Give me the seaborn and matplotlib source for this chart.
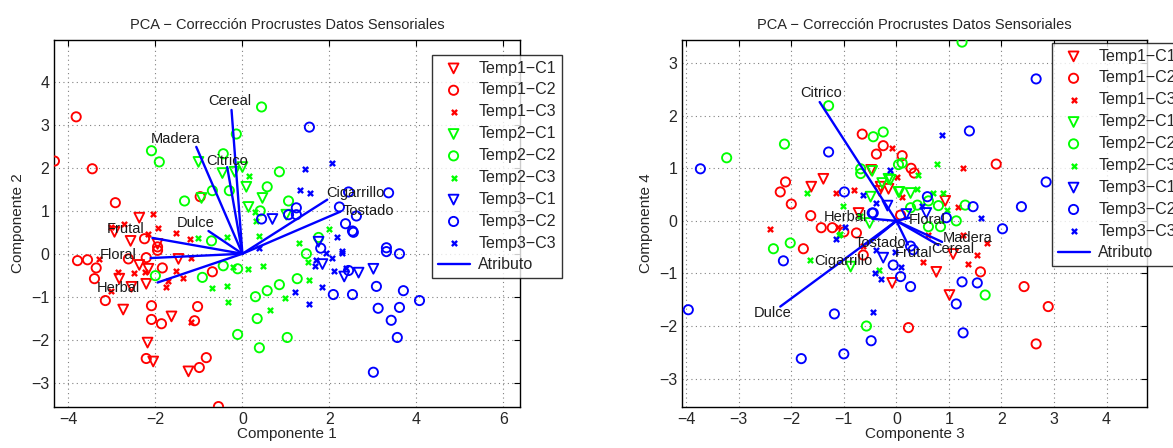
import matplotlib
matplotlib.use('Agg')
import matplotlib.pyplot as plt
import seaborn as sns
import pandas as pd
import numpy as np

# ---------- data: Componente 1 vs Componente 2 ----------
t1c1_a = [(-2.37, 0.84), (-2.57, 0.30), (-2.94, 0.51), (-2.37, -0.26), (-2.16, -0.35), (-2.21, -0.70),
          (-2.83, -0.58), (-2.55, -0.77), (-2.74, -1.30), (-2.18, -2.07), (-2.05, -2.51), (-1.63, -1.46),
          (-1.24, -2.74), (-1.47, -0.12), (-1.95, 0.23)]
t1c2_a = [(-4.32, 2.16), (-3.82, 3.19), (-3.45, 1.98), (-2.92, 1.19), (-3.79, -0.16), (-3.56, -0.14),
          (-3.36, -0.33), (-3.40, -0.58), (-3.15, -1.09), (-2.62, -0.12), (-2.25, 0.35), (-2.21, -0.09),
          (-1.95, 0.16), (-1.95, 0.08), (-1.84, -0.33), (-2.09, -1.21), (-2.09, -1.53), (-1.86, -1.63),
          (-2.21, -2.44), (-1.03, -1.23), (-1.10, -1.56), (-0.69, -0.42), (-0.83, -2.42), (-0.99, -2.65),
          (-0.55, -3.56), (-0.97, 1.33)]
t1c3_a = [(-2.05, 0.93), (-1.95, 0.60), (-2.71, 0.70), (-3.03, 0.63), (-2.16, 0.47), (-1.52, 0.49),
          (-1.20, 0.35), (-1.17, -0.09), (-1.52, -0.40), (-1.36, -0.56), (-1.70, -0.63), (-1.75, -0.77),
          (-2.48, -0.44), (-2.87, -0.42), (-3.29, -0.12), (-3.03, -0.86), (-1.17, -1.60), (-2.23, -0.42)]
t2c1_a = [(-1.01, 2.14), (-0.94, 1.30), (-0.46, 1.88), (-0.18, 1.91), (0.0, 2.02), (0.09, 1.56),
          (0.14, 1.09), (0.46, 1.30), (1.01, 0.91)]
t2c2_a = [(-2.09, 2.40), (-1.91, 2.14), (0.44, 3.42), (-0.14, 2.79), (-0.44, 2.33), (-1.33, 1.23),
          (-0.69, 1.47), (-0.30, 1.47), (0.57, 1.56), (0.85, 1.91), (1.06, 1.23), (0.41, 1.00),
          (-0.71, 0.30), (-0.44, -0.28), (-0.11, -0.35), (-0.92, -0.55), (1.47, 0.00), (1.75, 0.38),
          (1.26, -0.58), (0.85, -0.72), (0.57, -0.86), (0.30, -1.00), (0.34, -1.51), (-0.11, -1.88),
          (1.03, -1.95), (0.39, -2.19), (-2.00, -0.51)]
t2c3_a = [(0.16, 1.81), (0.32, 0.77), (0.39, 0.42), (-0.35, 0.40), (-1.03, 0.37), (1.29, 0.26),
          (1.98, 0.58), (1.50, -0.19), (0.48, -0.28), (0.14, -0.35), (-0.21, -0.30), (-0.71, -0.80),
          (-0.35, -0.76), (-0.34, -1.12), (0.64, -1.32), (0.97, -1.02), (1.54, -0.60), (0.30, 0.98)]
t3c1_a = [(0.69, 0.81), (1.75, 0.28), (1.84, -0.24), (2.34, -0.53), (2.67, -0.44), (3.01, -0.35)]
t3c2_a = [(0.44, 0.81), (1.24, 1.07), (1.06, 0.91), (1.24, 0.91), (1.54, 2.95), (2.44, 1.44),
          (3.36, 1.42), (2.23, 1.09), (2.62, 0.88), (2.37, 0.70), (2.53, 0.53), (2.55, 0.50),
          (3.31, 0.14), (3.31, 0.05), (3.61, 0.00), (1.80, 0.13), (3.08, -0.76), (3.12, -1.27),
          (3.70, -0.86), (3.61, -1.25), (4.07, -1.09), (3.42, -1.55), (3.56, -1.95), (3.01, -2.76),
          (2.09, -0.95), (2.53, -0.95), (2.44, -0.39)]
t3c3_a = [(2.05, 2.12), (1.45, 1.98), (1.33, 1.49), (1.56, 1.42), (2.18, 0.40), (2.28, 0.07),
          (2.30, 0.02), (2.05, -0.09), (1.91, 0.02), (1.70, -0.14), (1.68, -0.28), (2.11, -0.40),
          (2.39, -0.33), (1.82, -0.77), (1.20, -0.88), (1.54, -1.16), (0.37, 0.14)]

attr_names = ['Cereal', 'Madera', 'Citrico', 'Dulce', 'Frutal', 'Floral', 'Herbal', 'Cigarrillo', 'Tostado']
attr_a = [(-0.25, 3.35), (-1.06, 2.49), (-0.35, 2.02), (-0.78, 0.53), (-2.07, 0.37), (-2.11, -0.10),
          (-1.95, -0.67), (1.95, 1.26), (2.25, 0.98)]
attr_lab_a = [(-0.28, 3.56), (-1.54, 2.67), (-0.34, 2.16), (-1.08, 0.72), (-2.69, 0.58), (-2.85, -0.02),
              (-2.85, -0.79), (2.60, 1.42), (2.90, 1.00)]

# ---------- data: Componente 3 vs Componente 4 ----------
t1c1_b = [(-1.62, 0.65), (-1.39, 0.80), (-0.48, 0.97), (-0.30, 0.65), (-0.15, 0.61), (-0.32, 0.57),
          (0.93, 0.38), (-0.72, 0.15), (1.08, -0.63), (0.76, -0.97), (-0.08, -1.18), (1.01, -1.41)]
t1c2_b = [(-0.65, 1.65), (-0.25, 1.43), (-0.38, 1.27), (0.11, 1.24), (0.28, 1.00), (0.34, 0.91),
          (1.90, 1.08), (-2.11, 0.74), (-2.21, 0.55), (-2.00, 0.32), (-1.63, 0.10), (-1.43, -0.13),
          (-1.22, -0.13), (-1.00, -0.21), (-0.76, -0.23), (-1.77, -0.53), (-0.63, -0.65), (0.08, 0.11),
          (1.60, -0.97), (2.43, -1.25), (2.89, -1.63), (2.66, -2.34), (0.23, -2.03)]
t1c3_b = [(-2.40, -0.15), (-1.14, 0.53), (-0.80, 0.59), (-0.08, 1.39), (0.02, 0.84), (1.27, 1.01),
          (1.18, 0.27), (0.61, -0.27), (1.37, -0.82), (1.54, -0.65), (0.51, -0.78), (-0.63, -0.48),
          (1.73, -0.42), (1.27, -0.27), (-1.12, -0.11), (0.10, 0.45)]
t2c1_b = [(-0.46, 0.95), (-0.27, 0.72), (-0.15, 0.80), (0.06, 0.55), (0.27, 0.53), (-0.49, 0.46),
          (-0.51, -0.04), (-0.87, -0.87), (0.04, 0.55), (-0.11, 0.78)]
t2c2_b = [(-3.23, 1.20), (-2.13, 1.46), (-1.29, 2.19), (-0.44, 1.60), (-0.25, 1.69), (-0.68, 0.99),
          (-0.68, 0.90), (0.11, 1.10), (0.04, 1.07), (0.27, 0.25), (0.40, 0.30), (0.80, 0.29),
          (1.31, 0.30), (1.14, 0.00), (0.84, -0.11), (0.61, -0.11), (0.61, 0.38), (1.25, 3.40),
          (1.69, -1.41), (-2.34, -0.53), (-2.02, -0.42), (-0.57, -2.00)]
t2c3_b = [(-1.71, 0.53), (-1.01, 0.29), (0.78, 1.08), (0.42, 0.87), (0.40, 0.61), (0.70, 0.53),
          (0.89, 0.53), (0.97, 0.21), (-1.10, -0.27), (-0.34, -0.93), (-1.65, -0.74), (-1.08, -0.25),
          (-0.70, 0.10)]
t3c1_b = [(-0.17, 0.29), (0.19, 0.13), (0.57, 0.15), (-0.25, -0.70)]
t3c2_b = [(-3.73, 0.99), (-1.29, 1.31), (-0.99, 0.55), (-0.44, 0.15), (1.39, 1.71), (2.66, 2.70),
          (2.85, 0.74), (2.38, 0.27), (1.46, 0.27), (0.95, 0.06), (2.02, -0.15), (-0.46, 0.15),
          (0.27, -0.48), (0.32, -0.55), (-0.06, -0.84), (0.08, -1.06), (0.27, -1.25), (1.25, -1.16),
          (1.54, -1.18), (1.14, -1.58), (1.27, -2.13), (0.59, 0.46), (-3.96, -1.69), (-2.15, -0.76),
          (-1.18, -1.77), (-1.81, -2.62), (-1.00, -2.53), (-0.48, -2.28)]
t3c3_b = [(-0.63, 0.49), (-0.38, 0.34), (-0.13, 0.97), (0.87, 1.63), (1.62, 0.06), (0.49, 0.29),
          (-0.97, -0.11), (-0.40, -0.99), (-0.30, -1.10), (0.08, -0.87), (-1.14, -0.34), (-0.38, -0.55),
          (-0.44, -1.73), (-0.02, -0.59)]

attr_b = [(0.80, -0.46), (0.87, -0.40), (-1.46, 2.26), (-2.21, -1.63), (0.22, -0.45), (0.25, 0.06),
          (-0.46, 0.04), (-0.55, -0.45), (-0.25, -0.20)]
attr_lab_b = [(1.08, -0.53), (1.35, -0.32), (-1.43, 2.43), (-2.36, -1.75), (0.32, -0.61), (0.59, 0.02),
              (-0.97, 0.08), (-1.00, -0.76), (-0.30, -0.42)]

group_labels = ['Temp1−C1', 'Temp1−C2', 'Temp1−C3', 'Temp2−C1', 'Temp2−C2', 'Temp2−C3',
                'Temp3−C1', 'Temp3−C2', 'Temp3−C3']
group_colors = ['#ff0000'] * 3 + ['#00ff00'] * 3 + ['#0000ff'] * 3
group_markers = ['v', 'o', 'x'] * 3

sns.set_style('white')
plt.rcParams['font.family'] = ['Liberation Sans', 'DejaVu Sans']

fig = plt.figure(figsize=(11.73, 4.48), dpi=100)
W, H = 1173, 448
ax1 = fig.add_axes([54 / W, 1 - 407 / H, 466 / W, 367 / H])
ax2 = fig.add_axes([682 / W, 1 - 407 / H, 465 / W, 367 / H])


def draw(ax, groups, attrs, labpos, xlim, ylim, xticks, yticks, xlabel, ylabel):
    for pts, lab, col, mk in zip(groups, group_labels, group_colors, group_markers):
        df = pd.DataFrame(pts, columns=['x', 'y'])
        if mk == 'x':
            sns.scatterplot(data=df, x='x', y='y', ax=ax, marker='x', color=col, s=14,
                            linewidth=1.7, label=lab, zorder=3)
        else:
            sns.scatterplot(data=df, x='x', y='y', ax=ax, marker=mk, facecolor='none',
                            edgecolor=col, s=44 if mk == 'o' else 50, linewidth=1.35,
                            label=lab, zorder=3)
    for i, ((ex, ey), (lx, ly), name) in enumerate(zip(attrs, labpos, attr_names)):
        ax.plot([0, ex], [0, ey], color='#0000ff', lw=1.7, zorder=4,
                label='Atributo' if i == 0 else None)
        ax.text(lx, ly, name, ha='center', va='center', fontsize=10.5, color='#1a1a1a', zorder=5)
    ax.set_xlim(*xlim)
    ax.set_ylim(*ylim)
    ax.set_xticks(xticks)
    ax.set_yticks(yticks)
    ax.grid(True, linestyle=(0, (1, 3)), color='#808080', linewidth=0.8)
    ax.set_axisbelow(True)
    ax.tick_params(direction='in', top=True, right=True, labelsize=11.5, length=4, color='black')
    for sp in ax.spines.values():
        sp.set_color('black')
        sp.set_linewidth(1.0)
    ax.set_xlabel(xlabel, fontsize=11, labelpad=0)
    ax.set_ylabel(ylabel, fontsize=11, labelpad=4)
    ax.set_title('PCA − Corrección Procrustes Datos Sensoriales', fontsize=10.5, pad=8)


groups_a = [t1c1_a, t1c2_a, t1c3_a, t2c1_a, t2c2_a, t2c3_a, t3c1_a, t3c2_a, t3c3_a]
groups_b = [t1c1_b, t1c2_b, t1c3_b, t2c1_b, t2c2_b, t2c3_b, t3c1_b, t3c2_b, t3c3_b]

draw(ax1, groups_a, attr_a, attr_lab_a, (-4.33, 6.38), (-3.57, 4.98), range(-4, 7, 2), range(-3, 5),
     'Componente 1', 'Componente 2')
draw(ax2, groups_b, attr_b, attr_lab_b, (-4.08, 4.77), (-3.54, 3.44), range(-4, 5), range(-3, 4),
     'Componente 3', 'Componente 4')

for ax, anchor in [(ax1, (432 / W, 1 - 55 / H)), (ax2, (1052 / W, 1 - 43 / H))]:
    leg = ax.legend(loc='upper left', bbox_to_anchor=anchor, bbox_transform=fig.transFigure,
                    fontsize=11.5, frameon=True, fancybox=False, edgecolor='black',
                    labelspacing=0.43, handlelength=2.0, handletextpad=0.55, borderpad=0.35,
                    borderaxespad=0)
    leg.get_frame().set_linewidth(1.0)
    leg.set_zorder(10)

fig.savefig('out.png', dpi=100)
